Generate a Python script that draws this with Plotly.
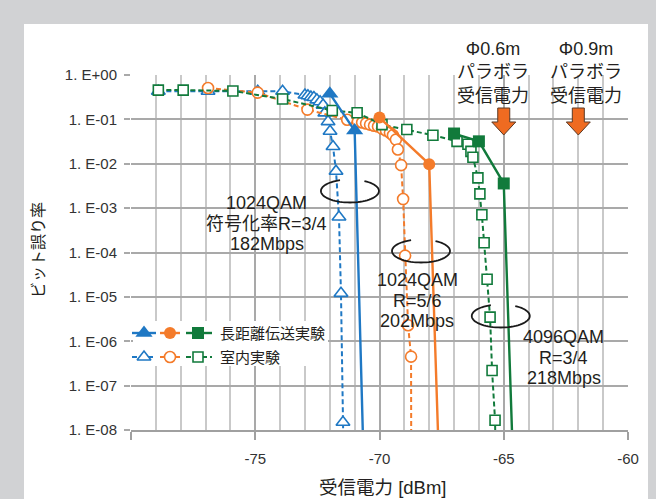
import math
import plotly.graph_objects as go

# ---- measured BER vs received power (dBm) ----
# indoor, 1024QAM R=3/4 (182Mbps)
indoor_r34_dbm = [-78.9, -76.9, -74.9, -73.9, -73.0, -72.88, -72.76, -72.64, -72.52, -72.39,
                  -72.27, -72.2, -72.07, -71.99, -71.87, -71.75, -71.63, -71.55, -71.47, -71.42]
indoor_r34_ber = [0.43, 0.43, 0.43, 0.43, 0.355, 0.34, 0.32, 0.31, 0.275, 0.25,
                  0.21, 0.14, 0.089, 0.054, 0.0245, 6.8e-3, 6.3e-4, 1.2e-5, 1.5e-8, 3e-10]

# indoor, 1024QAM R=5/6 (202Mbps)
indoor_r56_dbm = [-76.9, -74.9, -72.9, -71.3, -70.87, -70.70, -70.54, -70.38, -70.22, -70.06, -69.90,
                  -69.74, -69.58, -69.46, -69.34, -69.26, -69.13, -69.05, -68.97, -68.85, -68.73, -68.72]
indoor_r56_ber = [0.51, 0.40, 0.166, 0.098, 0.089, 0.085, 0.081, 0.076, 0.072, 0.069, 0.062,
                  0.056, 0.050, 0.044, 0.035, 0.021, 9.3e-3, 1.6e-3, 8.5e-5, 2.3e-6, 4.5e-7, 3e-10]

# indoor, 4096QAM R=3/4 (218Mbps)
indoor_4096_dbm = [-78.9, -77.9, -75.9, -73.9, -71.9, -70.9, -69.9, -68.9, -67.85, -66.88, -66.44,
                   -66.32, -66.24, -66.04, -65.96, -65.88, -65.79, -65.67, -65.55, -65.47, -65.35, -65.3]
indoor_4096_ber = [0.457, 0.457, 0.437, 0.288, 0.158, 0.141, 0.076, 0.059, 0.044, 0.032, 0.0275,
                   0.019, 0.014, 4.8e-3, 2.1e-3, 7.1e-4, 1.66e-4, 2.5e-5, 3.5e-6, 2.2e-7, 1.66e-8, 3e-10]

# long-distance transmission
long_r34_dbm = [-72.0, -71.0, -70.6]
long_r34_ber = [0.38, 0.056, 3e-10]
long_r56_dbm = [-70.0, -68.0, -67.56]
long_r56_ber = [0.11, 9.8e-3, 3e-10]
long_4096_dbm = [-67.0, -66.0, -65.0, -64.58]
long_4096_ber = [0.048, 0.032, 3.6e-3, 3e-10]

# modulation labels (one entry per text line)
mod_labels = [["1024QAM", "符号化率R=3/4", "182Mbps"],
              ["1024QAM", "R=5/6", "202Mbps"],
              ["4096QAM", "R=3/4", "218Mbps"]]

# parabola antenna received power markers
dish_labels = ["Φ0.6m<br>パラボラ<br>受信電力", "Φ0.9m<br>パラボラ<br>受信電力"]
dish_power = [-65.0, -62.0]

y_tickvals = [10.0 ** -k for k in range(0, 9)]
y_ticktext = ["1. E+00", "1. E-01", "1. E-02", "1. E-03", "1. E-04",
              "1. E-05", "1. E-06", "1. E-07", "1. E-08"]
x_tickvals = [-80, -75, -70, -65, -60]
x_ticktext = ["", "-75", "-70", "-65", "-60"]

BLUE = "#1f78c4"
ORANGE = "#f47b2a"
GREEN = "#117a3b"
TXT = "#231f20"
FONT = "Liberation Sans, Noto Sans CJK JP, sans-serif"
DASH = "5px,3px"

# plot area size in pixels (used for placing overlay items)
W, H = 497.0, 355.0
PLOT_LEFT, PLOT_TOP, PLOT_BOTTOM = 131, 75, 430


def px_to_fx(px):
    return (px - PLOT_LEFT) / W


def py_to_fy(py):
    return (PLOT_BOTTOM - py) / H


fig = go.Figure()


def indoor(x, y, color, symbol, size):
    fig.add_trace(go.Scatter(
        x=x, y=y, mode="lines+markers",
        line=dict(color=color, width=2, dash=DASH),
        marker=dict(symbol=symbol, size=size, color="white",
                    line=dict(color=color, width=1.6)),
        showlegend=False, hoverinfo="skip"))


def longdist(x, y, color, symbol, size):
    fig.add_trace(go.Scatter(
        x=x, y=y, mode="lines+markers",
        line=dict(color=color, width=2.4),
        marker=dict(symbol=symbol, size=size, color=color,
                    line=dict(color=color, width=0)),
        showlegend=False, hoverinfo="skip"))


indoor(indoor_r34_dbm, indoor_r34_ber, BLUE, "triangle-up", 12)
indoor(indoor_r56_dbm, indoor_r56_ber, ORANGE, "circle", 11)
indoor(indoor_4096_dbm, indoor_4096_ber, GREEN, "square", 10)
longdist(long_r34_dbm, long_r34_ber, BLUE, "triangle-up", 15)
longdist(long_r56_dbm, long_r56_ber, ORANGE, "circle", 12)
longdist(long_4096_dbm, long_4096_ber, GREEN, "square", 12)

# ---- legend, drawn on an overlay axis spanning the plot area (0..1) ----
lx0, lx1 = px_to_fx(133), px_to_fx(328)
ly0, ly1 = py_to_fy(366), py_to_fy(321)
fig.add_trace(go.Scatter(x=[lx0, lx1, lx1, lx0, lx0], y=[ly0, ly0, ly1, ly1, ly0],
                         xaxis="x2", yaxis="y2", mode="lines", fill="toself",
                         fillcolor="white", line=dict(width=0),
                         showlegend=False, hoverinfo="skip"))

row_solid = py_to_fy(333)
row_dash = py_to_fy(357)
glyphs = [(BLUE, "triangle-up", 132, 156, 144, 15, 12),
          (ORANGE, "circle", 160, 180, 170, 12, 11),
          (GREEN, "square", 186, 212, 198, 12, 10)]
for color, sym, x0, x1, xm, s_fill, s_open in glyphs:
    fig.add_trace(go.Scatter(x=[px_to_fx(x0), px_to_fx(x1)], y=[row_solid, row_solid],
                             xaxis="x2", yaxis="y2", mode="lines",
                             line=dict(color=color, width=2.4),
                             showlegend=False, hoverinfo="skip"))
    fig.add_trace(go.Scatter(x=[px_to_fx(xm)], y=[row_solid], xaxis="x2", yaxis="y2",
                             mode="markers", marker=dict(symbol=sym, size=s_fill, color=color),
                             showlegend=False, hoverinfo="skip"))
    fig.add_trace(go.Scatter(x=[px_to_fx(x0), px_to_fx(x1)], y=[row_dash, row_dash],
                             xaxis="x2", yaxis="y2", mode="lines",
                             line=dict(color=color, width=2, dash=DASH),
                             showlegend=False, hoverinfo="skip"))
    fig.add_trace(go.Scatter(x=[px_to_fx(xm)], y=[row_dash], xaxis="x2", yaxis="y2",
                             mode="markers",
                             marker=dict(symbol=sym, size=s_open, color="white",
                                         line=dict(color=color, width=1.6)),
                             showlegend=False, hoverinfo="skip"))


def note(x, y, text, size, xref="paper", xanchor="center", **kw):
    return dict(x=x, y=y, xref=xref, yref="paper", text=text, xanchor=xanchor,
                yanchor="middle", showarrow=False, font=dict(size=size, color=TXT),
                align="center", **kw)


annotations = [
    note(px_to_fx(218), row_solid, "長距離伝送実験", 15, xanchor="left"),
    note(px_to_fx(218), row_dash, "室内実験", 15, xanchor="left"),
    note(px_to_fx(38), py_to_fy(250), "ビット誤り率", 16, textangle=-90),
    note(px_to_fx(382), py_to_fy(487), "受信電力 [dBm]", 18.5),
]
# modulation labels: centre x (dBm) and first-line y (pixel), tight 20.7 px line pitch
for lines, (cx, y_first) in zip(mod_labels, [(-74.53, 203), (-68.49, 280), (-62.58, 337)]):
    for i, line in enumerate(lines):
        annotations.append(note(cx, py_to_fy(y_first + 20.7 * i), line, 18, xref="x"))

for lbl, lx in zip(dish_labels, [-65.45, -61.7]):
    annotations.append(note(lx, py_to_fy(72), lbl, 18, xref="x"))

shapes = []
# white panel inside the grey frame
shapes.append(dict(type="rect", xref="paper", yref="paper",
                   x0=px_to_fx(24), x1=px_to_fx(648), y0=py_to_fy(505), y1=py_to_fy(24),
                   fillcolor="white", line=dict(width=0), layer="below"))

# down arrows at the dish received power: x in pixels around the anchor, y in paper units
arrow_pts = [(-6, 108), (6, 108), (6, 122), (12, 122), (0, 135), (-12, 122), (-6, 122)]
arrow_path = "M " + " L ".join(f"{dx} {py_to_fy(py):.5f}" for dx, py in arrow_pts) + " Z"
for p in dish_power:
    shapes.append(dict(type="path", xref="x", yref="paper", xsizemode="pixel",
                       xanchor=p, path=arrow_path,
                       fillcolor="#ef6b21", line=dict(color="#5b3a26", width=1), layer="above"))


def ring(cy_px, rx, ry):
    # open ellipse, gap on top where the curve passes through
    pts = []
    for k in range(0, 61):
        a = math.radians(110 + k * 310 / 60)
        pts.append((rx * math.cos(a), py_to_fy(cy_px - ry * math.sin(a))))
    return "M " + " L ".join(f"{dx:.2f} {fy:.5f}" for dx, fy in pts)


for cx, cy_px in [(-71.19, 191), (-68.33, 251), (-65.12, 316)]:
    shapes.append(dict(type="path", xref="x", yref="paper", xsizemode="pixel",
                       xanchor=cx, path=ring(cy_px, 29, 11.5),
                       line=dict(color="#1a1a1a", width=1.8), layer="above"))

fig.update_layout(
    width=656, height=499,
    margin=dict(l=131, r=28, t=75, b=69),
    paper_bgcolor="#d1d2d4", plot_bgcolor="white",
    font=dict(family=FONT, color=TXT),
    showlegend=False,
    annotations=annotations, shapes=shapes,
    xaxis=dict(range=[-80, -60], tickmode="array", tickvals=x_tickvals, ticktext=x_ticktext,
               showgrid=True, gridcolor="#a9a9a9", gridwidth=1.5,
               minor=dict(tickmode="array", tickvals=list(range(-79, -60)), showgrid=True,
                          gridcolor="#c9c9c9", gridwidth=1.5, ticks=""),
               ticks="outside", ticklen=8, tickwidth=1.5, tickcolor="#a0a0a0",
               showline=True, linecolor="#a0a0a0", linewidth=2, zeroline=False,
               tickfont=dict(size=15, color="#333333"), ticklabelstandoff=6),
    yaxis=dict(type="log", range=[-8, 0], tickmode="array", tickvals=y_tickvals, ticktext=y_ticktext,
               showgrid=True, gridcolor="#a9a9a9", gridwidth=2,
               ticks="outside", ticklen=6, tickwidth=2, tickcolor="#a9a9a9",
               showline=False, zeroline=False, tickfont=dict(size=15, color="#333333"),
               ticklabelstandoff=4),
    xaxis2=dict(range=[0, 1], overlaying="x", visible=False, anchor="y2"),
    yaxis2=dict(range=[0, 1], overlaying="y", visible=False, anchor="x2"),
)

fig.write_html("out.html")
